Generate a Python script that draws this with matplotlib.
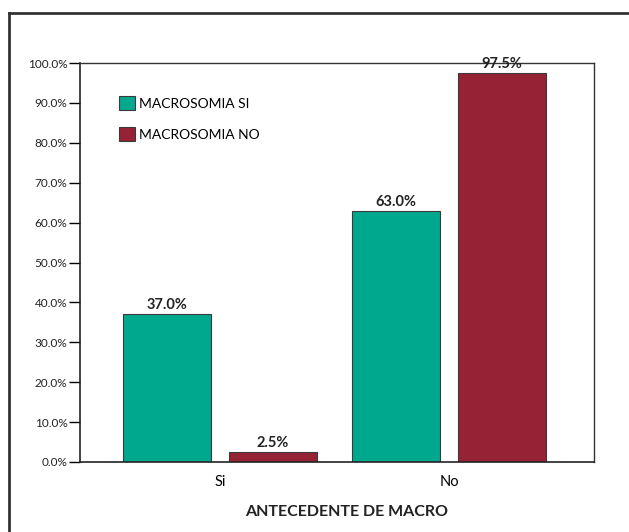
import numpy as np
import matplotlib
matplotlib.use("Agg")
from matplotlib import pyplot as plt
from matplotlib.ticker import FuncFormatter
from matplotlib.lines import Line2D
from matplotlib.patches import Patch

# porcentajes por grupo de antecedente
categorias = ["Si", "No"]
series = ["MACROSOMIA SI", "MACROSOMIA NO"]
macro_si = [37.0, 63.0]
macro_no = [2.5, 97.5]

verde = "#00a88e"
rojo = "#952335"

plt.rcParams["font.family"] = ["Lato", "DejaVu Sans"]

fig = plt.figure(figsize=(6.29, 5.32), dpi=100)
ax = fig.add_axes([80 / 629, 1 - 462 / 532, 514 / 629, 399 / 532])

x = np.arange(len(categorias))
ancho = 0.384
off = 0.23
b1 = ax.bar(x - off, macro_si, ancho, color=verde, edgecolor="#3a3a3a", linewidth=0.8)
b2 = ax.bar(x + off, macro_no, ancho, color=rojo, edgecolor="#3a3a3a", linewidth=0.8)

for barras, vals in ((b1, macro_si), (b2, macro_no)):
    for b, v in zip(barras, vals):
        ax.annotate(f"{v:.1f}%", (b.get_x() + b.get_width() / 2, v),
                    xytext=(0, 1.5), textcoords="offset points",
                    ha="center", va="bottom", fontsize=10.5, fontweight="bold",
                    color="#222222")

ax.set_xlim(-0.611, 1.633)
ax.set_ylim(0, 100)
ax.set_yticks(np.arange(0, 101, 10))
ax.yaxis.set_major_formatter(FuncFormatter(lambda v, p: f"{v:.1f}%"))
ax.set_xticks(x)
ax.set_xticklabels(categorias, fontsize=10.5)
ax.tick_params(axis="x", length=0, pad=9)
ax.tick_params(axis="y", length=8, width=1, labelsize=8.5, pad=1,
               labelcolor="#222222")

for s in ("left", "bottom"):
    ax.spines[s].set_color("#222222")
    ax.spines[s].set_linewidth(1.2)
for s in ("top", "right"):
    ax.spines[s].set_color("#333333")
    ax.spines[s].set_linewidth(1.0)

handles = [Patch(facecolor=verde, edgecolor="#3a3a3a", linewidth=0.8),
           Patch(facecolor=rojo, edgecolor="#3a3a3a", linewidth=0.8)]
ax.legend(handles, series, loc="upper left", bbox_to_anchor=(0.066, 0.93),
          frameon=False, fontsize=10, handlelength=1.15, handleheight=1.15,
          handletextpad=0.25, labelspacing=1.2, borderaxespad=0)

fig.text(347 / 629, 1 - 512 / 532, "ANTECEDENTE DE MACRO", ha="center",
         va="center", fontsize=11.5, fontweight="bold", color="#222222")

# marco exterior
fig.add_artist(Line2D([9 / 629, 9 / 629], [0, 1 - 13 / 532],
                      transform=fig.transFigure, color="#333333", linewidth=2))
fig.add_artist(Line2D([9 / 629, 1], [1 - 13 / 532, 1 - 13 / 532],
                      transform=fig.transFigure, color="#333333", linewidth=2))

fig.savefig("out.png", dpi=100)
